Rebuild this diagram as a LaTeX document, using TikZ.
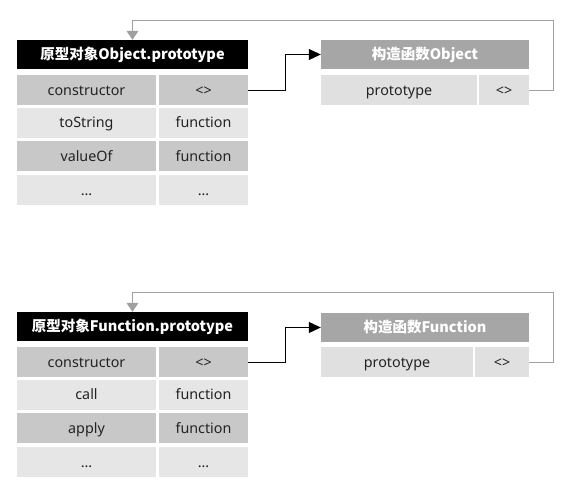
\documentclass[tikz,border=0pt]{standalone}
\usepackage{fontspec}
\setmainfont{Noto Sans}
\newfontfamily\cjk{Noto Sans CJK SC}
\usetikzlibrary{arrows.meta}
\definecolor{darkrow}{HTML}{C8C8C8}
\definecolor{lightrow}{HTML}{E6E6E6}
\definecolor{protorow}{HTML}{E0E0E0}
\definecolor{ctorhead}{HTML}{A6A6A6}
\definecolor{loopgray}{HTML}{A0A0A0}
\definecolor{celltext}{HTML}{222222}
\begin{document}
\begin{tikzpicture}[x=1pt,y=-1pt,
  cell/.style={inner sep=0pt,minimum height=30pt,text height=12pt,text depth=2pt,text=celltext,font=\fontsize{14.3}{16}\selectfont},
  dark/.style={cell,fill=darkrow},
  light/.style={cell,fill=lightrow},
  proto/.style={cell,fill=protorow},
  lw/.style={minimum width=139pt},
  rw/.style={minimum width=89pt},
  phead/.style={inner sep=0pt,minimum width=231pt,minimum height=29pt,text height=12.5pt,text depth=2pt,fill=black,text=white,font=\cjk\bfseries\fontsize{14.5}{16}\selectfont},
  chead/.style={inner sep=0pt,minimum width=208pt,minimum height=29pt,text height=12.5pt,text depth=2pt,fill=ctorhead,text=white,font=\cjk\bfseries\fontsize{14.5}{16}\selectfont},
  ptr/.style={line width=1pt,black,-{Triangle[length=12pt,width=11pt]}},
  loop/.style={line width=0.9pt,loopgray,-{Triangle[length=9pt,width=12pt]}}]
\useasboundingbox (0,0) rectangle (574,502);

% ---------- Object ----------
\node[phead] (h1) at (132.5,54.5) {原型对象Object.prototype};
\node[dark,lw]  (a1l) at (86.5,90.5)  {constructor};
\node[dark,rw]  (a1r) at (203.5,90.5) {<>};
\node[light,lw] (a2l) at (86.5,123)   {toString};
\node[light,rw] (a2r) at (203.5,123)  {function};
\node[dark,lw]  (a3l) at (86.5,156.5) {valueOf};
\node[dark,rw]  (a3r) at (203.5,156.5){function};
\node[light,lw] (a4l) at (86.5,190.5) {...};
\node[light,rw] (a4r) at (203.5,190.5){...};

\node[chead] (c1) at (425,54.5) {构造函数Object};
\node[proto,minimum width=156pt] (p1l) at (399,90.5) {prototype};
\node[proto,minimum width=50pt]  (p1r) at (504,90.5) {<>};

\coordinate (k1) at (553,20);
\draw[ptr] (a1r.east) -- ++(37,0) |- (c1.west);
\draw[loop] (p1r.east) -| (k1) -| (h1.north);

% ---------- Function ----------
\node[phead] (h2) at (132.5,326.5) {原型对象Function.prototype};
\node[dark,lw]  (b1l) at (86.5,362.5) {constructor};
\node[dark,rw]  (b1r) at (203.5,362.5){<>};
\node[light,lw] (b2l) at (86.5,395)   {call};
\node[light,rw] (b2r) at (203.5,395)  {function};
\node[dark,lw]  (b3l) at (86.5,428.5) {apply};
\node[dark,rw]  (b3r) at (203.5,428.5){function};
\node[light,lw] (b4l) at (86.5,462.5) {...};
\node[light,rw] (b4r) at (203.5,462.5){...};

\node[chead] (c2) at (425,327.5) {构造函数Function};
\node[proto,minimum width=152pt] (p2l) at (397,362.5) {prototype};
\node[proto,minimum width=54pt]  (p2r) at (502,362.5) {<>};

\coordinate (k2) at (553,292);
\draw[ptr] (b1r.east) -- ++(37,0) |- (c2.west);
\draw[loop] (p2r.east) -| (k2) -| (h2.north);
\end{tikzpicture}
\end{document}
